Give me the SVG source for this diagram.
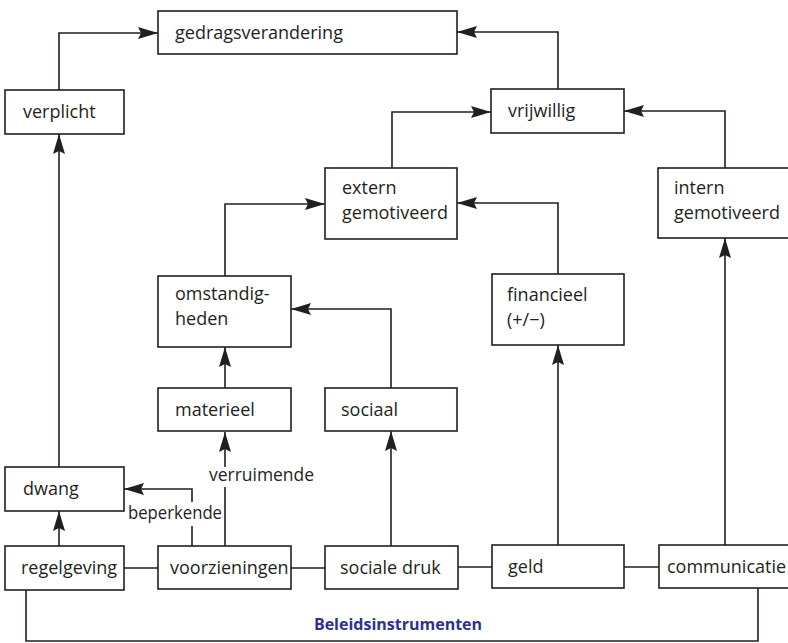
<svg xmlns="http://www.w3.org/2000/svg" width="788" height="643" viewBox="0 0 788 643">
<style>
.box{fill:#fff;stroke:#231f20;stroke-width:1.6}
.t{font-family:"Open Sans","Noto Sans",sans-serif;font-size:18px;fill:#231f20}
.c{fill:none;stroke:#231f20;stroke-width:1.6}
.lbl{font-family:"Open Sans","Noto Sans",sans-serif;font-size:18px;fill:#231f20}
.title{font-family:"Open Sans","Noto Sans",sans-serif;font-size:16px;font-weight:bold;fill:#2e3192}
</style>
<defs>
<marker id="ah" viewBox="0 0 20 12" refX="20" refY="6" markerWidth="20" markerHeight="12" markerUnits="userSpaceOnUse" orient="auto">
<path d="M0,0 L20,6 L0,12 L3,6 z" fill="#231f20"/>
</marker>
</defs>
<rect width="788" height="643" fill="#fff"/>
<g id="connectors">
<path class="c" d="M59,90 V33 H158" marker-end="url(#ah)"/>
<path class="c" d="M558,89 V32 H457" marker-end="url(#ah)"/>
<path class="c" d="M392,168 V112 H491" marker-end="url(#ah)"/>
<path class="c" d="M725,168 V111 H624" marker-end="url(#ah)"/>
<path class="c" d="M558,274 V203 H457" marker-end="url(#ah)"/>
<path class="c" d="M225,276 V204 H325" marker-end="url(#ah)"/>
<path class="c" d="M391,388 V309 H291" marker-end="url(#ah)"/>
<path class="c" d="M225,388 V347" marker-end="url(#ah)"/>
<path class="c" d="M225,546 V487 M225,467 V432" marker-end="url(#ah)"/>
<path class="c" d="M192,546 V526 M192,502 V489 H124" marker-end="url(#ah)"/>
<path class="c" d="M59,546 V511" marker-end="url(#ah)"/>
<path class="c" d="M59,467 V134" marker-end="url(#ah)"/>
<path class="c" d="M391,546 V431" marker-end="url(#ah)"/>
<path class="c" d="M558,545 V345" marker-end="url(#ah)"/>
<path class="c" d="M725,545 V238" marker-end="url(#ah)"/>
<path class="c" d="M124,568 H158 M291,568 H325 M458,567 H492 M624,567 H659"/>
<path class="c" d="M26,590 V641 H758 V588"/>
<text class="lbl" x="209" y="481" textLength="105" lengthAdjust="spacingAndGlyphs">verruimende</text>
<text class="lbl" x="128" y="519" textLength="94" lengthAdjust="spacingAndGlyphs">beperkende</text>
</g>
<g id="gedragsverandering"><rect class="box" x="158" y="11" width="299" height="43"/><text class="t" x="175" y="39">gedragsverandering</text></g>
<g id="verplicht"><rect class="box" x="5" y="90" width="119" height="44"/><text class="t" x="23" y="118">verplicht</text></g>
<g id="vrijwillig"><rect class="box" x="491" y="89" width="133" height="44"/><text class="t" x="508" y="117">vrijwillig</text></g>
<g id="extern"><rect class="box" x="325" y="168" width="132" height="71"/><text class="t" x="342" y="194">extern</text><text class="t" x="342" y="219">gemotiveerd</text></g>
<g id="intern"><rect class="box" x="658" y="168" width="140" height="70"/><text class="t" x="674" y="194">intern</text><text class="t" x="674" y="219">gemotiveerd</text></g>
<g id="omstandigheden"><rect class="box" x="158" y="276" width="133" height="71"/><text class="t" x="175" y="300">omstandig-</text><text class="t" x="175" y="325">heden</text></g>
<g id="financieel"><rect class="box" x="492" y="274" width="132" height="71"/><text class="t" x="507" y="301">financieel</text><text class="t" x="507" y="326">(+/−)</text></g>
<g id="materieel"><rect class="box" x="158" y="388" width="133" height="43"/><text class="t" x="175" y="416">materieel</text></g>
<g id="sociaal"><rect class="box" x="325" y="388" width="132" height="43"/><text class="t" x="341" y="416">sociaal</text></g>
<g id="dwang"><rect class="box" x="5" y="467" width="119" height="44"/><text class="t" x="23" y="495">dwang</text></g>
<g id="regelgeving"><rect class="box" x="5" y="546" width="119" height="44"/><text class="t" x="21" y="574">regelgeving</text></g>
<g id="voorzieningen"><rect class="box" x="158" y="546" width="133" height="43"/><text class="t" x="170" y="574">voorzieningen</text></g>
<g id="socialedruk"><rect class="box" x="325" y="546" width="133" height="43"/><text class="t" x="340" y="574">sociale druk</text></g>
<g id="geld"><rect class="box" x="492" y="545" width="132" height="43"/><text class="t" x="508" y="573">geld</text></g>
<g id="communicatie"><rect class="box" x="659" y="545" width="140" height="43"/><text class="t" x="667" y="573">communicatie</text></g>
<g id="beleidsinstrumenten"><text class="title" x="398" y="630" text-anchor="middle">Beleidsinstrumenten</text></g>
</svg>
